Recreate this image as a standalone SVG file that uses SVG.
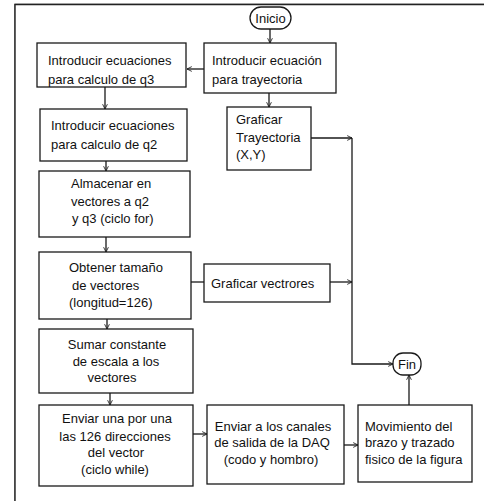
<svg xmlns="http://www.w3.org/2000/svg" width="484" height="501" viewBox="0 0 484 501">
<style>
.b{fill:#fff;stroke:#1a1a1a;stroke-width:1.3}
.t{font-family:"Liberation Sans",Arial,sans-serif;font-size:13px;fill:#111}
.c{text-anchor:middle}
.l{fill:none;stroke:#1a1a1a;stroke-width:1.3}
</style>
<defs>
<marker id="a" viewBox="0 0 10 10" refX="9" refY="5" markerWidth="6" markerHeight="6" orient="auto" markerUnits="userSpaceOnUse">
<path d="M1,1 L9,5 L1,9" fill="none" stroke="#1a1a1a" stroke-width="1.4"/>
</marker>
</defs>
<rect width="484" height="501" fill="#fff"/>
<path d="M14.5,501 V4 H484" fill="none" stroke="#9a9a9a" stroke-width="1"/>
<path d="M15,501 V4.5 H484" fill="none" stroke="#222" stroke-width="1.4"/>

<g id="connectors">
<path class="l" d="M270,29 V43" marker-end="url(#a)"/>
<path class="l" d="M204,69 H187" marker-end="url(#a)"/>
<path class="l" d="M269,93 V107" marker-end="url(#a)"/>
<path class="l" d="M105,87 V109" marker-end="url(#a)"/>
<path class="l" d="M106,161 V171" marker-end="url(#a)"/>
<path class="l" d="M106,237 V252" marker-end="url(#a)"/>
<path class="l" d="M107,319 V329" marker-end="url(#a)"/>
<path class="l" d="M110,393 V405" marker-end="url(#a)"/>
<path class="l" d="M193,434 H207" marker-end="url(#a)"/>
<path class="l" d="M344,445 H358" marker-end="url(#a)"/>
<path class="l" d="M409,405 V375" marker-end="url(#a)"/>
<path class="l" d="M311,138 H352" marker-end="url(#a)"/>
<path class="l" d="M352,138 V364 H393" marker-end="url(#a)"/>
<path class="l" d="M191,282 H204"/>
<path class="l" d="M330,282 H352" marker-end="url(#a)"/>
</g>

<g id="inicio">
<rect class="b" x="250" y="7" width="41" height="22" rx="11"/>
<text class="t c" x="270.5" y="23">Inicio</text>
</g>
<g id="intro-trayectoria">
<rect class="b" x="204" y="43" width="132" height="50"/>
<text class="t" x="212" y="65">Introducir ecuación</text>
<text class="t" x="212" y="84">para trayectoria</text>
</g>
<g id="intro-q3">
<rect class="b" x="37" y="43" width="149" height="44"/>
<text class="t" x="48" y="65">Introducir ecuaciones</text>
<text class="t" x="48" y="84">para calculo de q3</text>
</g>
<g id="graficar-trayectoria">
<rect class="b" x="227" y="107" width="84" height="63"/>
<text class="t" x="236" y="124">Graficar</text>
<text class="t" x="236" y="142">Trayectoria</text>
<text class="t" x="236" y="159">(X,Y)</text>
</g>
<g id="intro-q2">
<rect class="b" x="40" y="109" width="147" height="52"/>
<text class="t" x="51" y="130">Introducir ecuaciones</text>
<text class="t" x="51" y="149">para calculo de q2</text>
</g>
<g id="almacenar">
<rect class="b" x="39" y="171" width="151" height="66"/>
<text class="t" x="71" y="188">Almacenar en</text>
<text class="t" x="71" y="206">vectores a q2</text>
<text class="t" x="72" y="223">y q3 (ciclo for)</text>
</g>
<g id="obtener">
<rect class="b" x="39" y="252" width="152" height="67"/>
<text class="t" x="69" y="272">Obtener tamaño</text>
<text class="t" x="72" y="290">de vectores</text>
<text class="t" x="69" y="307">(longitud=126)</text>
</g>
<g id="graficar-vectrores">
<rect class="b" x="204" y="264" width="126" height="38"/>
<text class="t" x="211" y="288">Graficar vectrores</text>
</g>
<g id="sumar">
<rect class="b" x="39" y="329" width="154" height="64"/>
<text class="t c" x="117" y="349">Sumar constante</text>
<text class="t c" x="116" y="366">de escala a los</text>
<text class="t c" x="112" y="382">vectores</text>
</g>
<g id="enviar">
<rect class="b" x="39" y="405" width="154" height="81"/>
<text class="t c" x="117" y="423">Enviar una por una</text>
<text class="t c" x="115" y="441">las 126 direcciones</text>
<text class="t c" x="116" y="457">del vector</text>
<text class="t c" x="115" y="474">(ciclo while)</text>
</g>
<g id="enviar-daq">
<rect class="b" x="207" y="405" width="137" height="79"/>
<text class="t c" x="273" y="431">Enviar a los canales</text>
<text class="t c" x="272" y="447">de salida de la DAQ</text>
<text class="t c" x="271" y="464">(codo y hombro)</text>
</g>
<g id="movimiento">
<rect class="b" x="358" y="405" width="114" height="77"/>
<text class="t" x="365" y="431">Movimiento del</text>
<text class="t" x="365" y="447">brazo y trazado</text>
<text class="t" x="365" y="464">fisico de la figura</text>
</g>
<g id="fin">
<rect class="b" x="393" y="353" width="28" height="22" rx="10"/>
<text class="t c" x="407" y="369">Fin</text>
</g>
</svg>
